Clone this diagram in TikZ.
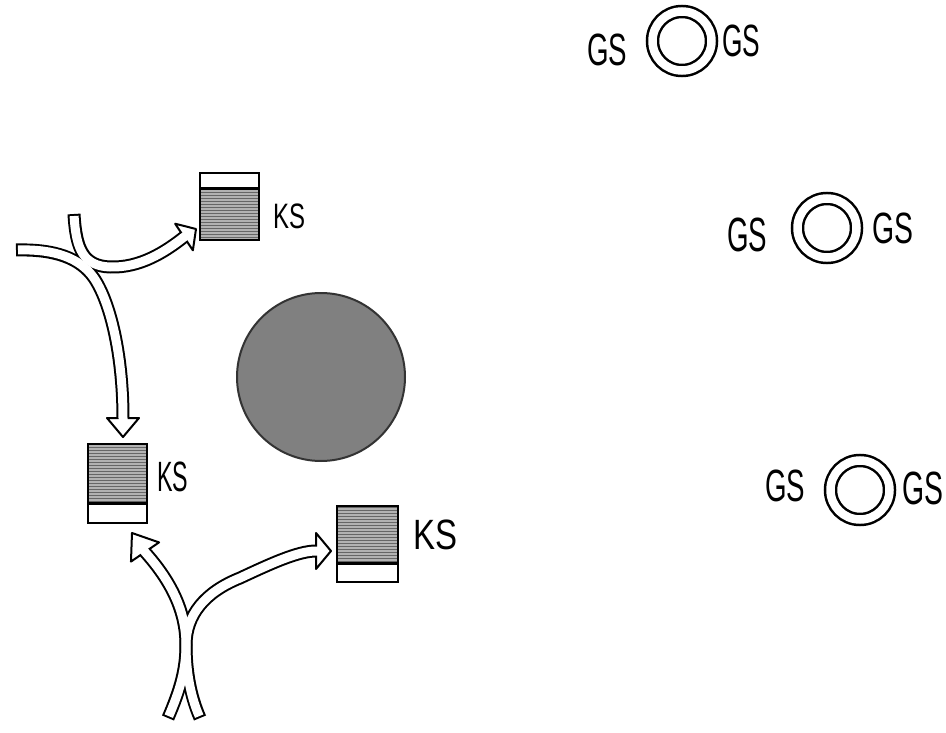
\documentclass[tikz,border=0pt]{standalone}
\usepackage{fontspec}
\usepackage{graphicx}
\newfontfamily\hand{Liberation Sans}
\newcommand\handtext[3]{\resizebox*{#1}{#2}{\hand #3}}
\usetikzlibrary{calc,patterns}
\begin{document}
\begin{tikzpicture}[x=1pt,y=-1pt,
  ksbox/.style={draw=black, line width=2.5pt, fill=white, inner sep=0pt, outer sep=0pt},
  ksfill/.style={fill=black!30},
  kshatch/.style={pattern=horizontal lines, pattern color=black!60},
  divider/.style={line width=3pt},
  lbl/.style={inner sep=0pt},
  ring/.style={circle, draw=black, line width=2.5pt, double=white, double distance=8.5pt, minimum size=59pt, inner sep=0pt},
  core/.style={circle, minimum size=168pt, fill=black!50, draw=black!80, line width=2pt, inner sep=0pt},
  bandout/.style={line width=13pt, draw=black, line cap=butt, line join=round},
  bandin/.style={line width=9pt, draw=white, line cap=butt, line join=round},
  headtri/.style={fill=white, draw=black, line width=2pt, line join=round}
]
\useasboundingbox (0,0) rectangle (946,733);

% central body
\node[core] (body) at (321,377) {};

% KS boxes
\node[ksbox, minimum width=59pt, minimum height=67pt,
  path picture={\fill[ksfill] ([yshift=-16pt]path picture bounding box.north west) rectangle (path picture bounding box.south east);
                \fill[kshatch] ([yshift=-16pt]path picture bounding box.north west) rectangle (path picture bounding box.south east);}]
  (ks1) at (229.5,206.5) {};
\draw[divider] ([yshift=-16pt]ks1.north west) -- ([yshift=-16pt]ks1.north east);
\node[lbl] (ks1l) at (289,216) {\handtext{32pt}{25pt}{KS}};

\node[ksbox, minimum width=59pt, minimum height=79pt,
  path picture={\fill[ksfill] (path picture bounding box.north west) rectangle ([yshift=20pt]path picture bounding box.south east);
                \fill[kshatch] (path picture bounding box.north west) rectangle ([yshift=20pt]path picture bounding box.south east);}]
  (ks2) at (117.5,483.5) {};
\draw[divider] ([yshift=20pt]ks2.south west) -- ([yshift=20pt]ks2.south east);
\node[lbl] (ks2l) at (172.5,477) {\handtext{31pt}{30pt}{KS}};

\node[ksbox, minimum width=61pt, minimum height=76pt,
  path picture={\fill[ksfill] (path picture bounding box.north west) rectangle ([yshift=19pt]path picture bounding box.south east);
                \fill[kshatch] (path picture bounding box.north west) rectangle ([yshift=19pt]path picture bounding box.south east);}]
  (ks3) at (367.5,544) {};
\draw[divider] ([yshift=19pt]ks3.south west) -- ([yshift=19pt]ks3.south east);
\node[lbl] (ks3l) at (435,535) {\handtext{44pt}{30pt}{KS}};

% GS rings
\node[ring] (r1) at (682,41) {};
\node[lbl] (r1a) at (607,50) {\handtext{40pt}{32pt}{GS}};
\node[lbl] (r1b) at (741,41) {\handtext{38pt}{32pt}{GS}};

\node[ring] (r2) at (827,228) {};
\node[lbl] (r2a) at (747,235) {\handtext{40pt}{34pt}{GS}};
\node[lbl] (r2b) at (892.5,228) {\handtext{41pt}{31pt}{GS}};

\node[ring] (r3) at (860,490) {};
\node[lbl] (r3a) at (785,486) {\handtext{40pt}{32pt}{GS}};
\node[lbl] (r3b) at (922.5,488) {\handtext{41pt}{33pt}{GS}};

% arrow coordinates
\coordinate (a1t) at (74,214);
\coordinate (a1b) at (184,237);
\coordinate (a1h) at (196,229);
\coordinate (b1t) at (16,250);
\coordinate (b1b) at (123,418);
\coordinate (b1h) at (123,437);
\coordinate (c2t) at (168,718);
\coordinate (c2b) at (145,552);
\coordinate (c2h) at (132,533);
\coordinate (d2t) at (200,718);
\coordinate (d2b) at (316,551);
\coordinate (d2h) at (331,551);

% outer (black) strokes
\draw[bandout] (a1t) .. controls (76,250) and (84,266) .. (110,267) .. controls (140,268) and (165,252) .. (a1b);
\draw[bandout] (b1t) .. controls (55,249) and (80,258) .. (94,278) .. controls (112,305) and (123,360) .. (b1b);
\draw[bandout] (c2t) .. controls (180,690) and (186,670) .. (186,645) .. controls (186,610) and (170,580) .. (c2b);
\draw[bandout] (d2t) .. controls (190,695) and (186,670) .. (186,645) .. controls (186,615) and (205,592) .. (240,578) .. controls (270,564) and (298,551) .. (d2b);

% heads
\draw[headtri] (a1h) -- ($(a1b)!16pt!90:(a1h)$) -- ($(a1b)!16pt!-90:(a1h)$) -- cycle;
\draw[headtri] (b1h) -- ($(b1b)!16pt!90:(b1h)$) -- ($(b1b)!16pt!-90:(b1h)$) -- cycle;
\draw[headtri] (c2h) -- ($(c2b)!17pt!90:(c2h)$) -- ($(c2b)!17pt!-90:(c2h)$) -- cycle;
\draw[headtri] (d2h) -- ($(d2b)!18pt!90:(d2h)$) -- ($(d2b)!18pt!-90:(d2h)$) -- cycle;

% inner (white) strokes
\draw[bandin] ($(a1t)!2pt!(76,250)$) .. controls (76,250) and (84,266) .. (110,267) .. controls (140,268) and (165,252) .. (a1b) -- ($(a1b)!2.5pt!(a1h)$);
\draw[bandin] ($(b1t)!2pt!(55,249)$) .. controls (55,249) and (80,258) .. (94,278) .. controls (112,305) and (123,360) .. (b1b) -- ($(b1b)!2.5pt!(b1h)$);
\draw[bandin] ($(c2t)!2pt!(180,690)$) .. controls (180,690) and (186,670) .. (186,645) .. controls (186,610) and (170,580) .. (c2b) -- ($(c2b)!2.5pt!(c2h)$);
\draw[bandin] ($(d2t)!2pt!(190,695)$) .. controls (190,695) and (186,670) .. (186,645) .. controls (186,615) and (205,592) .. (240,578) .. controls (270,564) and (298,551) .. (d2b) -- ($(d2b)!2.5pt!(d2h)$);
\end{tikzpicture}
\end{document}
